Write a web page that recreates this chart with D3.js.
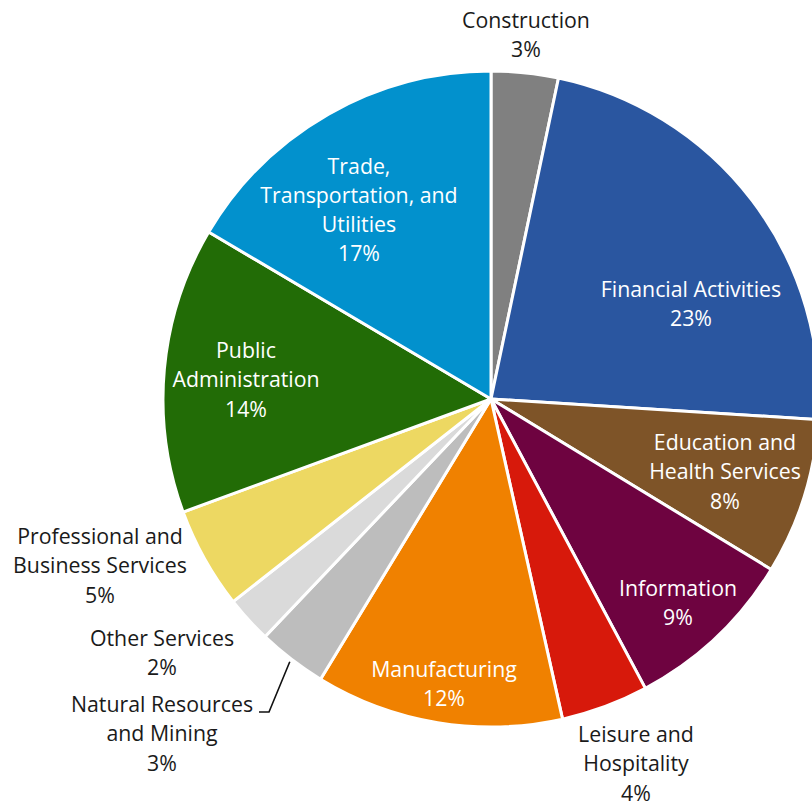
<!DOCTYPE html>
<html>
<head>
<meta charset="utf-8">
<script src="https://cdn.jsdelivr.net/npm/d3@7"></script>
<style>
  html, body { margin: 0; padding: 0; background: #fff; }
  svg { display: block; font-family: "Open Sans", "Noto Sans", sans-serif; }
</style>
</head>
<body>
<svg id="chart" width="812" height="804"></svg>
<script>
// Employment share by industry (percent), clockwise from 12 o'clock
const industries = [
  "Construction",
  "Financial Activities",
  "Education and Health Services",
  "Information",
  "Leisure and Hospitality",
  "Manufacturing",
  "Natural Resources and Mining",
  "Other Services",
  "Professional and Business Services",
  "Public Administration",
  "Trade, Transportation, and Utilities"
];
const shares = [3.3, 22.7, 7.7, 8.5, 4.3, 12.2, 3.4, 2.3, 5.0, 14.1, 16.5];

// Label text broken into lines (percentage line appended at draw time)
const labelLines = [
  ["Construction"],
  ["Financial Activities"],
  ["Education and", "Health Services"],
  ["Information"],
  ["Leisure and", "Hospitality"],
  ["Manufacturing"],
  ["Natural Resources", "and Mining"],
  ["Other Services"],
  ["Professional and", "Business Services"],
  ["Public", "Administration"],
  ["Trade,", "Transportation, and", "Utilities"]
];

const palette = [
  "#808080", "#2a56a0", "#7e5428", "#6e0340", "#d7190b", "#f08100",
  "#bdbdbd", "#dadada", "#edd862", "#226c06", "#0291cd"
];

// Label layout: centre of the text block, and whether it sits inside its slice
const labelLayout = [
  { x: 526, y: 35,  inside: false },
  { x: 691, y: 304, inside: true },
  { x: 725, y: 472, inside: true },
  { x: 678, y: 603, inside: true },
  { x: 636, y: 764, inside: false },
  { x: 444, y: 684, inside: true },
  { x: 162, y: 734, inside: false },
  { x: 162, y: 653, inside: false },
  { x: 100, y: 566, inside: false },
  { x: 246, y: 380, inside: true },
  { x: 359, y: 210, inside: true }
];

const cx = 491, cy = 399, R = 328;
const lineH = 29.3;

const svg = d3.select("#chart");
const g = svg.append("g").attr("transform", `translate(${cx},${cy})`);

const pie = d3.pie().sort(null).value(d => d.value);
const arc = d3.arc().innerRadius(0).outerRadius(R);

const data = industries.map((name, i) => ({ name, value: shares[i], i }));
const arcs = pie(data);

const color = d3.scaleOrdinal().domain(industries).range(palette);

g.selectAll("path.slice")
  .data(arcs)
  .join("path")
  .attr("class", "slice")
  .attr("d", arc)
  .attr("fill", d => color(d.data.name))
  .attr("stroke", "#fff")
  .attr("stroke-width", 3)
  .attr("stroke-linejoin", "round");

// Leader line for the narrow Natural Resources slice
const nat = arcs[6];
const midA = (nat.startAngle + nat.endAngle) / 2;
const p0 = [Math.sin(midA) * (R + 3) + cx, -Math.cos(midA) * (R + 3) + cy];
svg.append("path")
  .attr("d", d3.line()([p0, [269, 712], [259, 712]]))
  .attr("fill", "none")
  .attr("stroke", "#111")
  .attr("stroke-width", 1.6);

// Labels
const labels = svg.append("g").attr("font-size", 21.3);
arcs.forEach((a, i) => {
  const lay = labelLayout[i];
  const lines = labelLines[i].concat([Math.round(a.data.value) + "%"]);
  const top = lay.y - (lines.length - 1) * lineH / 2;
  const t = labels.append("text")
    .attr("text-anchor", "middle")
    .attr("fill", lay.inside ? "#ffffff" : "#1a1a1a");
  lines.forEach((ln, k) => {
    t.append("tspan")
      .attr("x", lay.x)
      .attr("y", top + k * lineH)
      .attr("dy", "0.35em")
      .text(ln);
  });
});
</script>
</body>
</html>
